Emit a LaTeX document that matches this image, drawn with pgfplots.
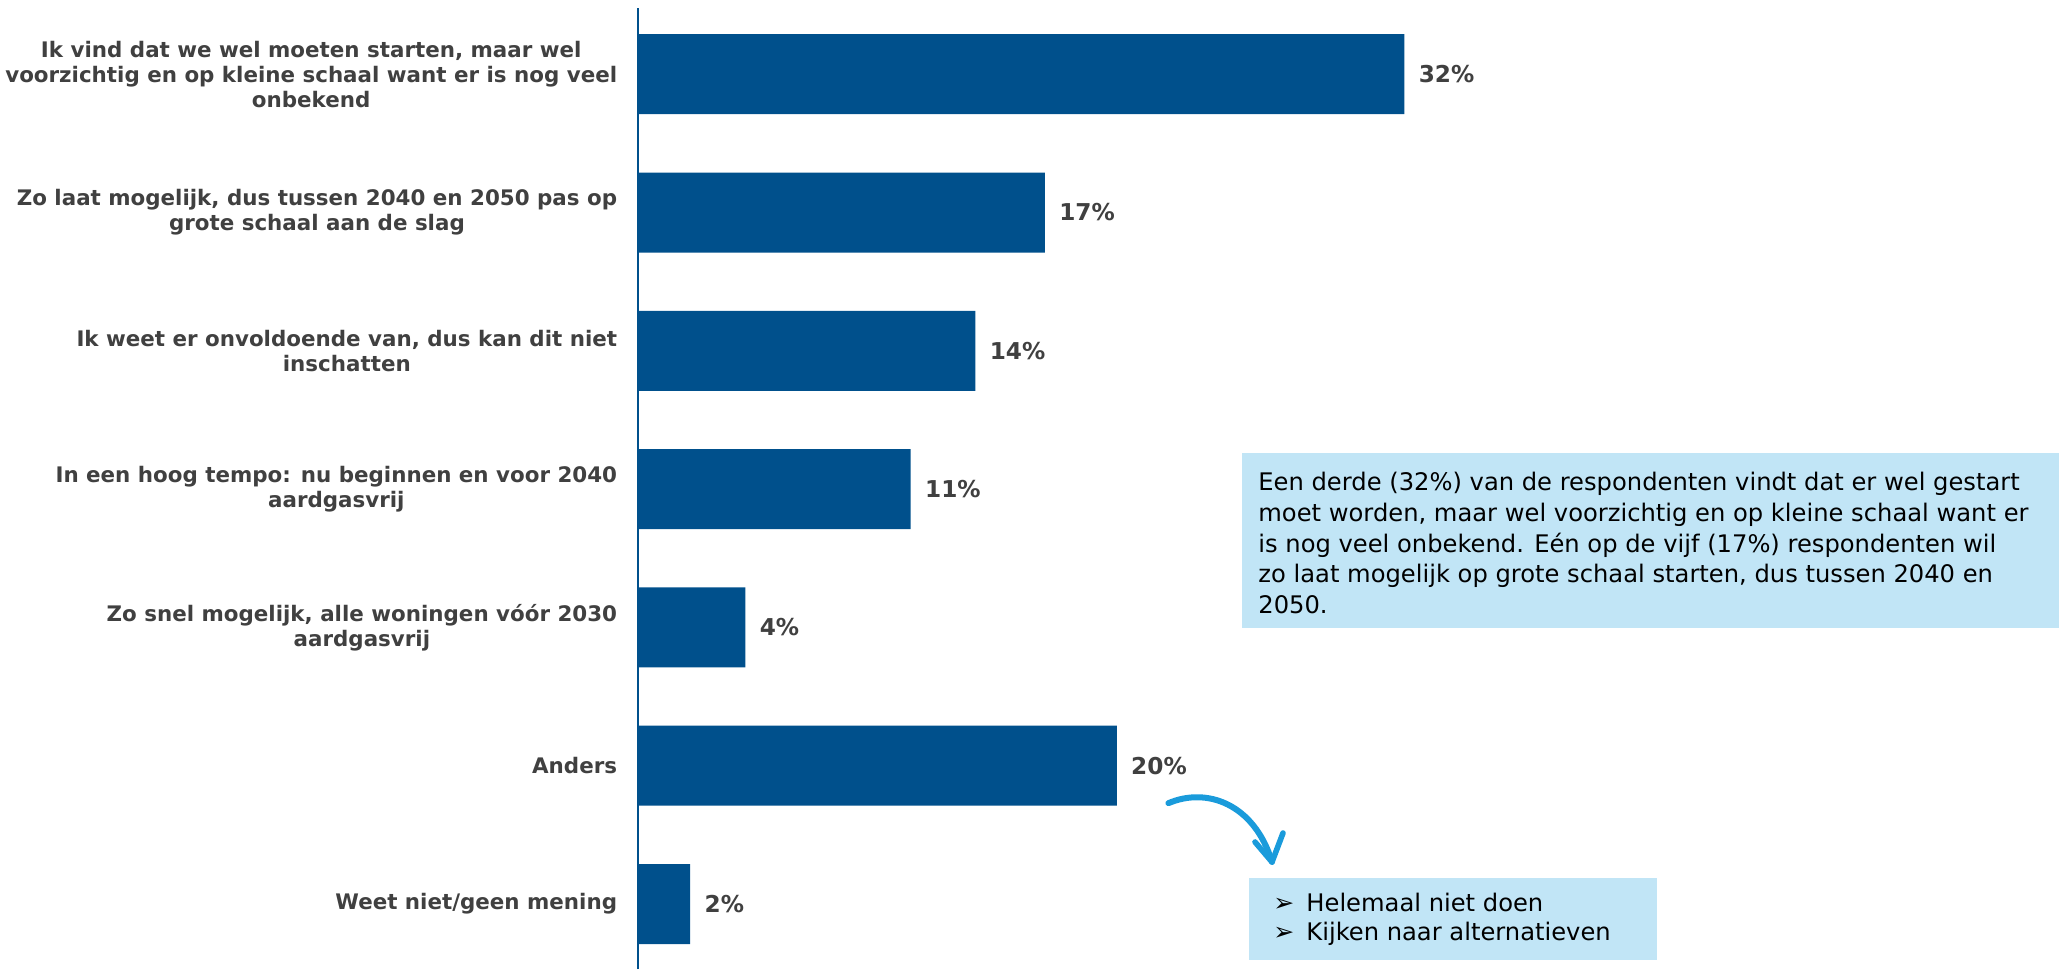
\documentclass[border=0pt]{standalone}
\usepackage{fontspec}
\setmainfont{DejaVu Sans}
\usepackage{pgfplots}
\pgfplotsset{compat=1.18}
\definecolor{barblue}{HTML}{00508C}
\definecolor{labgray}{HTML}{404040}
\definecolor{boxblue}{HTML}{C1E5F6}
\definecolor{arrowblue}{HTML}{1A9BDB}
\begin{document}
\begin{tikzpicture}[x=1pt,y=1pt]
\useasboundingbox (0,0) rectangle (1029.5,484.5);
\begin{axis}[
  at={(318.75pt,0pt)}, anchor=south west,
  scale only axis,
  width=707pt, height=480.5pt,
  xmin=0, xmax=59,
  ymin=0.53, ymax=7.479,
  xbar, bar width=40pt,
  axis x line=none,
  axis y line*=left,
  y axis line style={barblue, line width=1pt, -},
  ytick={1,2,3,4,5,6,7},
  yticklabels={
    {Weet niet/geen mening},
    {Anders},
    {Zo snel mogelijk, alle woningen vóór 2030\\aardgasvrij},
    {In een hoog tempo: nu beginnen en voor 2040\\aardgasvrij},
    {Ik weet er onvoldoende van, dus kan dit niet\\inschatten},
    {Zo laat mogelijk, dus tussen 2040 en 2050 pas op\\grote schaal aan de slag},
    {Ik vind dat we wel moeten starten, maar wel\\voorzichtig en op kleine schaal want er is nog veel\\onbekend}
  },
  major tick length=0pt,
  yticklabel style={font=\fontsize{10.7}{12.6}\selectfont\bfseries, text=labgray, align=center, anchor=east, inner sep=0pt, xshift=-10pt},
  nodes near coords,
  point meta=explicit symbolic,
  nodes near coords style={font=\fontsize{11.6}{13}\selectfont\bfseries, text=labgray, anchor=west, inner sep=0pt, xshift=7pt},
  clip=false,
]
\addplot[fill=barblue, draw=none] coordinates {
  (2.2,1) [2\%]
  (20,2) [20\%]
  (4.5,3) [4\%]
  (11.4,4) [11\%]
  (14.1,5) [14\%]
  (17,6) [17\%]
  (32,7) [32\%]
};
\end{axis}
% text box
\fill[boxblue] (621,170.5) rectangle (1029.5,258);
\node[anchor=north west, align=left, inner sep=0pt, font=\fontsize{12.1}{15.4}\selectfont, text=black] at (629,248.6)
 {Een derde (32\%) van de respondenten vindt dat er wel gestart\\
  moet worden, maar wel voorzichtig en op kleine schaal want er\\
  is nog veel onbekend. Eén op de vijf (17\%) respondenten wil\\
  zo laat mogelijk op grote schaal starten, dus tussen 2040 en\\
  2050.};
% bottom box
\fill[boxblue] (624.5,4.5) rectangle (828.5,45.5);
\node[anchor=base west, inner sep=0pt, font=\fontsize{12.5}{14}\selectfont] at (636.5,28.6) {➢};
\node[anchor=base west, inner sep=0pt, font=\fontsize{12.5}{14}\selectfont] at (636.5,14.1) {➢};
\node[anchor=base west, inner sep=0pt, font=\fontsize{12.1}{14}\selectfont] at (653,29) {Helemaal niet doen};
\node[anchor=base west, inner sep=0pt, font=\fontsize{12.1}{14}\selectfont] at (653,14.5) {Kijken naar alternatieven};
% arrow
\draw[arrowblue, line width=3pt, line cap=round] (584.2,82.9) .. controls (603,91) and (627,83) .. (636,53.5);
\draw[arrowblue, line width=2.8pt, line cap=round, line join=round] (627.5,63.5) -- (636,53.5) -- (641.5,68);
\end{tikzpicture}
\end{document}
